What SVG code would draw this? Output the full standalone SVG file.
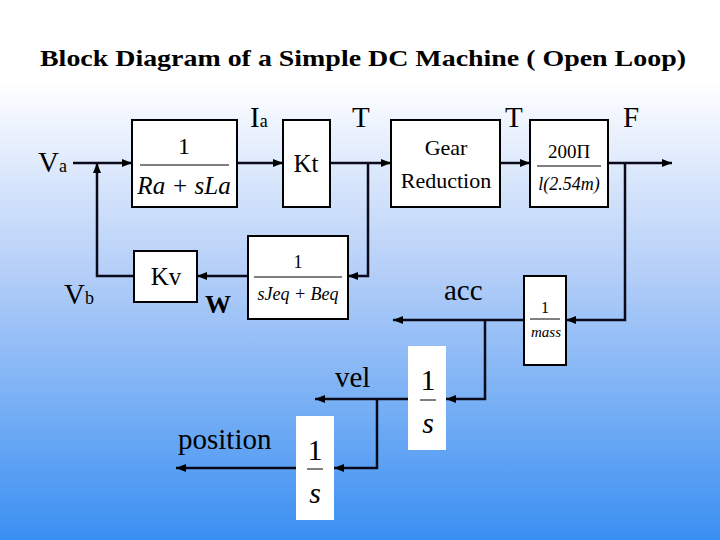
<svg xmlns="http://www.w3.org/2000/svg" width="720" height="540" viewBox="0 0 720 540">
<defs>
<linearGradient id="bg" x1="0" y1="0" x2="0" y2="1">
<stop offset="0" stop-color="#ffffff"/><stop offset="0.15" stop-color="#ffffff"/><stop offset="0.5" stop-color="#b5cff8"/><stop offset="1" stop-color="#3a8ff2"/>
</linearGradient>
<marker id="ar" viewBox="0 0 10 8" refX="10" refY="4" markerWidth="10" markerHeight="8" markerUnits="userSpaceOnUse" orient="auto"><path d="M0,0 L10,4 L0,8 z" fill="#000"/></marker>
<style>
.b{fill:#fff;stroke:#000;stroke-width:2}
.w{fill:#fff}
text{font-family:"Liberation Serif","Times New Roman",serif;fill:#000}
.i{font-style:italic}
.c line,.c polyline{stroke:#0a0a1a;stroke-width:2.5;fill:none}
.f{stroke:#000;stroke-width:1}
</style>
</defs>
<rect width="720" height="540" fill="url(#bg)"/>
<text font-family="Liberation Serif, serif" x="40" y="66" font-size="23" font-weight="bold" textLength="646" lengthAdjust="spacingAndGlyphs">Block Diagram of a Simple DC Machine ( Open Loop)</text>
<g class="c">
<line x1="73" y1="163" x2="132" y2="163" marker-end="url(#ar)"/>
<line x1="237" y1="163" x2="283" y2="163" marker-end="url(#ar)"/>
<line x1="330" y1="163" x2="391" y2="163" marker-end="url(#ar)"/>
<polyline points="368,163 368,276 348,276" marker-end="url(#ar)"/>
<line x1="248" y1="276" x2="197" y2="276" marker-end="url(#ar)"/>
<polyline points="134,276 97,276 97,163" marker-end="url(#ar)"/>
<line x1="500" y1="163" x2="530" y2="163" marker-end="url(#ar)"/>
<line x1="608" y1="163" x2="672" y2="163" marker-end="url(#ar)"/>
<polyline points="625,163 625,320 566,320" marker-end="url(#ar)"/>
<line x1="524" y1="320" x2="393" y2="320" marker-end="url(#ar)"/>
<polyline points="485,320 485,399 446,399" marker-end="url(#ar)"/>
<line x1="408" y1="399" x2="315" y2="399" marker-end="url(#ar)"/>
<polyline points="377,399 377,468 334,468" marker-end="url(#ar)"/>
<line x1="296" y1="468" x2="176" y2="468" marker-end="url(#ar)"/>
</g>
<g id="armature"><rect class="b" x="132" y="120" width="105" height="87"/>
<text font-family="Liberation Serif, serif" x="184" y="154" font-size="24" text-anchor="middle">1</text><line class="f" x1="140" y1="165" x2="229" y2="165"/>
<text font-family="Liberation Serif, serif" font-style="italic" x="184" y="194" font-size="25" text-anchor="middle">Ra + sLa</text></g>
<g id="kt"><rect class="b" x="283" y="120" width="47" height="87"/><text font-family="Liberation Serif, serif" x="306" y="172" font-size="25" text-anchor="middle">Kt</text></g>
<g id="gear"><rect class="b" x="391" y="120" width="109" height="87"/>
<text font-family="Liberation Serif, serif" x="446" y="155" font-size="22" text-anchor="middle">Gear</text><text font-family="Liberation Serif, serif" x="446" y="188" font-size="22" text-anchor="middle">Reduction</text></g>
<g id="conv"><rect class="b" x="530" y="120" width="78" height="87"/>
<text font-family="Liberation Serif, serif" x="569" y="158" font-size="19" text-anchor="middle">200Π</text><line class="f" x1="537" y1="166" x2="601" y2="166"/>
<text font-family="Liberation Serif, serif" font-style="italic" x="569" y="190" font-size="18" text-anchor="middle">l(2.54m)</text></g>
<g id="inertia"><rect class="b" x="248" y="236" width="100" height="83"/>
<text font-family="Liberation Serif, serif" x="298" y="268" font-size="18" text-anchor="middle">1</text><line class="f" x1="254" y1="277" x2="342" y2="277"/>
<text font-family="Liberation Serif, serif" font-style="italic" x="298" y="300" font-size="18" text-anchor="middle">sJeq + Beq</text></g>
<g id="kv"><rect class="b" x="134" y="251" width="63" height="51"/><text font-family="Liberation Serif, serif" x="166" y="285" font-size="25" text-anchor="middle">Kv</text></g>
<g id="mass"><rect class="b" x="524" y="276" width="42" height="89"/>
<text font-family="Liberation Serif, serif" x="545" y="313" font-size="16" text-anchor="middle">1</text><line class="f" x1="530" y1="319" x2="560" y2="319"/>
<text font-family="Liberation Serif, serif" font-style="italic" x="546" y="337" font-size="15" text-anchor="middle">mass</text></g>
<g id="int1"><rect class="w" x="408" y="346" width="38" height="104"/>
<text font-family="Liberation Serif, serif" x="428" y="390" font-size="30" text-anchor="middle">1</text><line class="f" x1="420" y1="400" x2="436" y2="400"/>
<text font-family="Liberation Serif, serif" font-style="italic" x="428" y="433" font-size="30" text-anchor="middle">s</text></g>
<g id="int2"><rect class="w" x="296" y="416" width="38" height="104"/>
<text font-family="Liberation Serif, serif" x="315" y="460" font-size="30" text-anchor="middle">1</text><line class="f" x1="307" y1="469" x2="323" y2="469"/>
<text font-family="Liberation Serif, serif" font-style="italic" x="315" y="503" font-size="30" text-anchor="middle">s</text></g>
<g id="labels" font-family="Liberation Serif, serif" font-size="29">
<text x="38" y="172">V<tspan font-size="18">a</tspan></text>
<text x="250" y="127">I<tspan font-size="18">a</tspan></text>
<text x="352" y="127">T</text>
<text x="505" y="127">T</text>
<text x="623" y="127">F</text>
<text x="64" y="304">V<tspan font-size="18">b</tspan></text>
<text x="205" y="313" font-weight="bold" font-size="26">W</text>
<text x="444" y="300">acc</text>
<text x="335" y="387">vel</text>
<text x="178" y="449">position</text>
</g>
</svg>
